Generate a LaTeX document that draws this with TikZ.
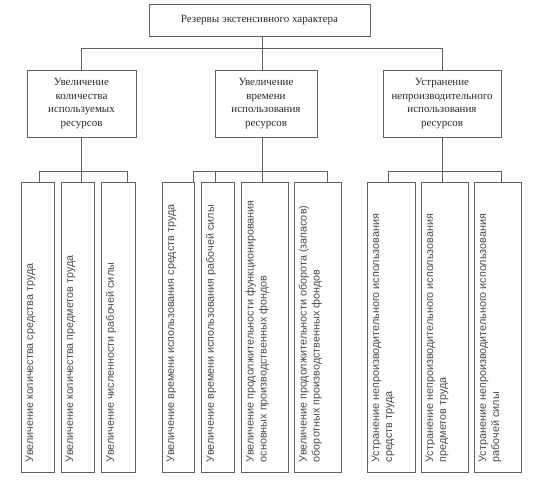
\documentclass[tikz,border=0pt]{standalone}
\usepackage{fontspec}
\setmainfont{Liberation Serif}
\newfontfamily\bsans{Liberation Sans}
\definecolor{ln}{HTML}{606060}
\definecolor{tx}{HTML}{2A2A2A}
\begin{document}
\begin{tikzpicture}[x=1pt,y=1pt,
  box/.style={draw=ln, line width=0.8pt, inner sep=0pt},
  headtext/.style={font=\fontsize{11}{13.5}\selectfont, text=tx, align=center},
  bbox/.style={draw=ln, line width=0.8pt, inner sep=0pt, minimum height=290pt},
  btext/.style={font=\bsans\fontsize{10.8}{13}\selectfont, text=tx!85!white, rotate=90, anchor=north west, inner sep=0pt, align=left},
  conn/.style={draw=ln, line width=0.8pt}]
\useasboundingbox (0,0) rectangle (553,487);
% top
\node[box, minimum width=221pt, minimum height=32pt, headtext] (top) at (259.5,467) {Резервы экстенсивного характера};
% middle
\node[box, minimum width=109pt, minimum height=67pt, headtext] (m1) at (81.5,383.5) {Увеличение\\количества\\используемых\\ресурсов};
\node[box, minimum width=102pt, minimum height=67pt, headtext] (m2) at (266,383.5) {Увеличение\\времени\\использования\\ресурсов};
\node[box, minimum width=118pt, minimum height=67pt, headtext] (m3) at (442,383.5) {Устранение\\непроизводительного\\использования\\ресурсов};
% bottom boxes
\node[bbox, minimum width=33pt] (a) at (37.5,160) {};
\node[bbox, minimum width=33pt] (b) at (77.5,160) {};
\node[bbox, minimum width=34pt] (c) at (118,160) {};
\node[bbox, minimum width=32pt] (d) at (178,160) {};
\node[bbox, minimum width=33pt] (e) at (217.5,160) {};
\node[bbox, minimum width=47pt] (f) at (264.5,160) {};
\node[bbox, minimum width=47pt] (g) at (317.5,160) {};
\node[bbox, minimum width=48pt] (h) at (391,160) {};
\node[bbox, minimum width=47pt] (i) at (444.5,160) {};
\node[bbox, minimum width=47pt] (j) at (497.5,160) {};
% bottom texts
\node[btext] (ta) at ([shift={(5,10)}]a.south west) {Увеличение количества средства труда};
\node[btext] (tb) at ([shift={(5,10)}]b.south west) {Увеличение количества предметов труда};
\node[btext] (tc) at ([shift={(5,10)}]c.south west) {Увеличение численности рабочей силы};
\node[btext] (td) at ([shift={(5,10)}]d.south west) {Увеличение времени использования средств труда};
\node[btext] (te) at ([shift={(5,10)}]e.south west) {Увеличение времени использования рабочей силы};
\node[btext] (tf) at ([shift={(5,10)}]f.south west) {Увеличение продолжительности функционирования\\основных производственных фондов};
\node[btext] (tg) at ([shift={(5,10)}]g.south west) {Увеличение продолжительности оборота (запасов)\\оборотных производственных фондов};
\node[btext] (th) at ([shift={(5,10)}]h.south west) {Устранение непроизводительного использования\\средств труда};
\node[btext] (ti) at ([shift={(5,10)}]i.south west) {Устранение непроизводительного использования\\предметов труда};
\node[btext] (tj) at ([shift={(5,10)}]j.south west) {Устранение непроизводительного использования\\рабочей силы};
% junction coordinates
\coordinate (t0) at (262,439);
\coordinate (t1) at (81,439);
\coordinate (t3) at (442,439);
\coordinate (u1) at (39,316);
\coordinate (v1) at (127,316);
\coordinate (w1) at (81,316);
\coordinate (u2) at (193,316);
\coordinate (p2) at (215,316);
\coordinate (w2) at (262,316);
\coordinate (v2) at (327,316);
\coordinate (u3) at (388,316);
\coordinate (w3) at (442,316);
\coordinate (v3) at (501,316);
% level 1 connectors
\draw[conn] (t0 |- top.south) -- (t0 |- m2.north);
\draw[conn] (t1) -- (t3);
\draw[conn] (t1) -- (t1 |- m1.north);
\draw[conn] (t3) -- (t3 |- m3.north);
% group 1
\draw[conn] (w1 |- m1.south) -- (w1 |- b.north);
\draw[conn] (u1) -- (v1);
\draw[conn] (u1) -- (u1 |- a.north);
\draw[conn] (v1) -- (v1 |- c.north);
% group 2
\draw[conn] (w2 |- m2.south) -- (w2 |- f.north);
\draw[conn] (u2) -- (v2);
\draw[conn] (u2) -- (u2 |- d.north);
\draw[conn] (p2) -- (p2 |- e.north);
\draw[conn] (v2) -- (v2 |- g.north);
% group 3
\draw[conn] (w3 |- m3.south) -- (w3 |- i.north);
\draw[conn] (u3) -- (v3);
\draw[conn] (u3) -- (u3 |- h.north);
\draw[conn] (v3) -- (v3 |- j.north);
\end{tikzpicture}
\end{document}
